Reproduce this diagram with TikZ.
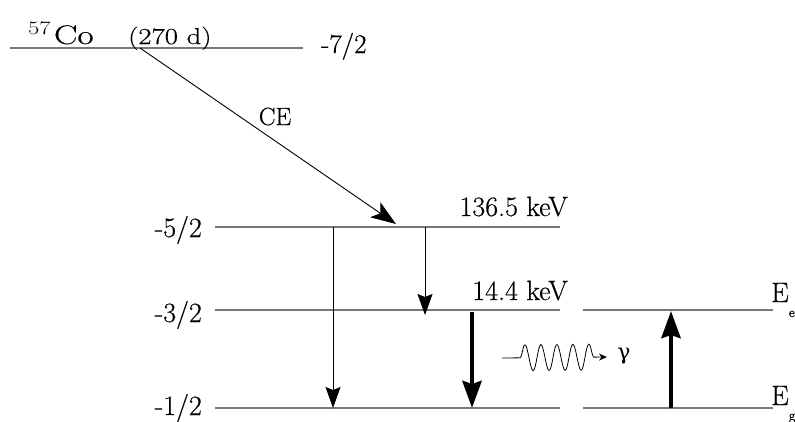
\RequirePackage{fix-cm}
\documentclass[tikz,border=0pt]{standalone}
\usepackage{fontspec}
\setmainfont{Latin Modern Roman}[FakeBold=0.5]
\newfontfamily\grkfont{DejaVu Serif}
\usetikzlibrary{arrows.meta,decorations.pathmorphing}
\definecolor{lvgray}{RGB}{120,120,120}
\begin{document}
\begin{tikzpicture}[x=1pt,y=-1pt,
  level/.style={draw=lvgray,line width=1.4pt},
  thinarr/.style={line width=0.9pt,-{Stealth[length=21pt,width=15pt,inset=3pt]}},
  thickarr/.style={line width=4.5pt,-{Stealth[length=27pt,width=19pt,inset=3pt]}},
  celarr/.style={line width=0.9pt,-{Stealth[length=25pt,width=18pt,inset=6pt]}},
  lbl/.style={font=\fontsize{28}{32}\selectfont,inner sep=0pt},
  elbl/.style={font=\fontsize{28}{32}\selectfont,inner sep=0pt,anchor=base west}]
\useasboundingbox (0,0) rectangle (795,421);
% coordinates of the levels
\coordinate (t1) at (10,48);   \coordinate (t2) at (303,48);
\coordinate (a1) at (215,227); \coordinate (a2) at (560,227);
\coordinate (b1) at (215,310); \coordinate (b2) at (560,310);
\coordinate (c1) at (215,408); \coordinate (c2) at (560,408);
\coordinate (r1) at (583,310); \coordinate (r2) at (773,310);
\coordinate (s1) at (583,408); \coordinate (s2) at (773,408);
% levels
\draw[level] (t1) -- (t2);
\draw[level] (a1) -- (a2);
\draw[level] (b1) -- (b2);
\draw[level] (c1) -- (c2);
\draw[level] (r1) -- (r2);
\draw[level] (s1) -- (s2);
% texts
\node[anchor=base west,inner sep=0pt] (co) at (28,44)
  {\scalebox{1.3}[1]{\fontsize{27}{31}\selectfont$^{57}$\kern2pt Co}};
\node[anchor=base west,inner sep=0pt] (hl) at (128,44)
  {\scalebox{1.25}[1]{\fontsize{23}{27}\selectfont (270 d)}};
\node[lbl,anchor=base west,font=\fontsize{27}{31}\selectfont] (s72) at (321,53) {-7/2};
\node[lbl,anchor=base east] (s52) at (202,237) {-5/2};
\node[lbl,anchor=base east] (s32) at (202,322) {-3/2};
\node[lbl,anchor=base east] (s12) at (202,415) {-1/2};
\node[lbl,anchor=base east] (e136) at (568,216) {136.5 keV};
\node[lbl,anchor=base east] (e144) at (568,300) {14.4 keV};
\node[lbl,font=\fontsize{25}{29}\selectfont] (ce) at (275,116.5) {CE};
\node[elbl] (ee) at (771,302) {E\raisebox{-15pt}{\fontsize{14}{16}\selectfont e}};
\node[elbl] (eg) at (771,405) {E\raisebox{-15pt}{\fontsize{14}{16}\selectfont g}};
\node[lbl,font=\fontsize{22}{26}\grkfont] (gam) at (624,356) {γ};
% arrow end points
\coordinate (ceS) at (140,48);  \coordinate (ceE) at (396,224);
\coordinate (p1) at (333,227);  \coordinate (q1) at (333,408);
\coordinate (p2) at (425,227);  \coordinate (q2) at (425,315);
\coordinate (p3) at (472,312);  \coordinate (q3) at (472,408);
\coordinate (p4) at (671,408);  \coordinate (q4) at (671,311);
\coordinate (w1) at (502,358);  \coordinate (w2) at (607,357);
% arrows
\draw[celarr] (ceS) -- (ceE);
\draw[thinarr] (p1) -- (q1);
\draw[thinarr] (p2) -- (q2);
\draw[thickarr] (p3) -- (q3);
\draw[thickarr] (p4) -- (q4);
\draw[line width=0.8pt,-{Stealth[length=8pt,width=7pt]},
  decorate,decoration={snake,segment length=16pt,amplitude=13pt,pre length=18pt,post length=10pt}]
  (w1) -- (w2);
\end{tikzpicture}
\end{document}
